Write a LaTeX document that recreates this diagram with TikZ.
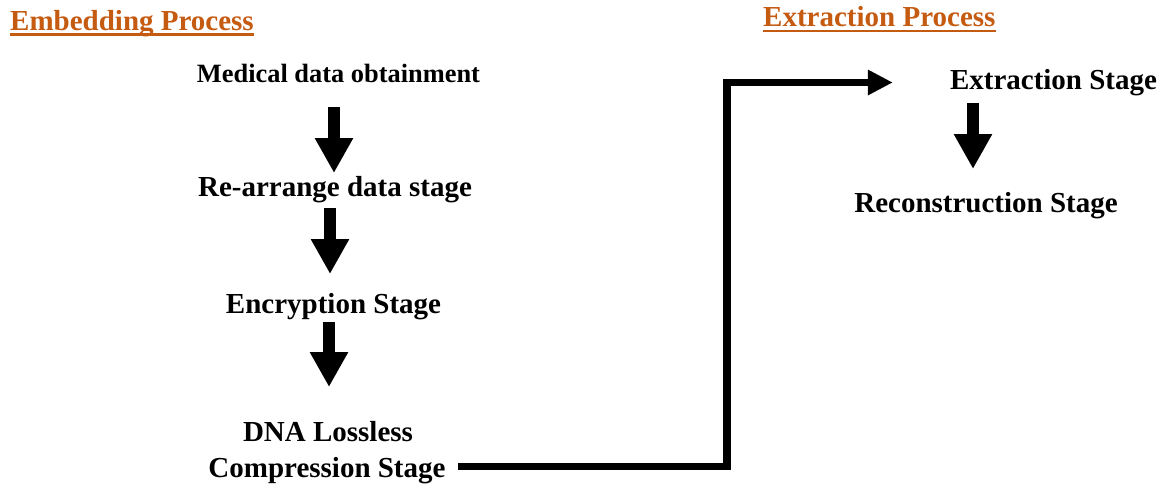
\documentclass[tikz,border=0pt]{standalone}
\usepackage{fontspec}
\setmainfont{Liberation Serif}
\usetikzlibrary{arrows.meta}
\definecolor{headorange}{HTML}{C55A11}

\tikzset{
  stage/.style={font=\fontsize{29}{33}\selectfont\bfseries, anchor=base, inner sep=0pt},
  heading/.style={stage, text=headorange, anchor=base west},
  blockarrow/.style={line width=12pt, -{Triangle[width=36pt,length=35pt]}},
  flowline/.style={line width=7.5pt, line join=miter, -{Triangle[width=24pt,length=25pt]}}
}

\begin{document}
\begin{tikzpicture}[x=1pt,y=-1pt]
\useasboundingbox (0,0) rectangle (1164,485);

% headings
\node[heading] (emb) at (10,30) {Embedding Process};
\node[heading] (extp) at (763,26) {Extraction Process};
\draw[headorange, line width=2.5pt] ([yshift=-4.5pt]emb.base west) -- ([yshift=-4.5pt]emb.base east);
\draw[headorange, line width=2.5pt] ([yshift=-5pt]extp.base west) -- ([yshift=-5pt]extp.base east);

% embedding side
\node[stage, font=\fontsize{26.4}{30}\selectfont\bfseries] (med) at (338.5,82) {Medical data obtainment};
\node[stage] (rea) at (335,196) {Re-arrange data stage};
\node[stage] (enc) at (333.5,313) {Encryption Stage};
\node[stage] (dna) at (328,441) {DNA Lossless};
\node[stage] (comp) at (327,477) {Compression Stage};

\draw[blockarrow] ([xshift=-4.5pt,yshift=-25pt]med.base) -- ([xshift=-1pt,yshift=23pt]rea.base);
\draw[blockarrow] ([xshift=-5pt,yshift=-12pt]rea.base) -- ([xshift=-3.5pt,yshift=39pt]enc.base);
\draw[blockarrow] ([xshift=-4.5pt,yshift=-9pt]enc.base) -- ([xshift=1pt,yshift=54pt]dna.base);

% extraction side
\node[stage] (ext) at (1053.5,89) {Extraction Stage};
\node[stage] (rec) at (986,212) {Reconstruction Stage};

\draw[blockarrow] ([xshift=-80.5pt,yshift=-14pt]ext.base) -- ([xshift=-13pt,yshift=43pt]rec.base);

% link between the two processes
\draw[flowline] ([xshift=12pt,yshift=10.5pt]comp.base east) -| ([xshift=-223pt,yshift=6.5pt]ext.base west) -- ([xshift=-57pt,yshift=6.5pt]ext.base west);

\end{tikzpicture}
\end{document}
